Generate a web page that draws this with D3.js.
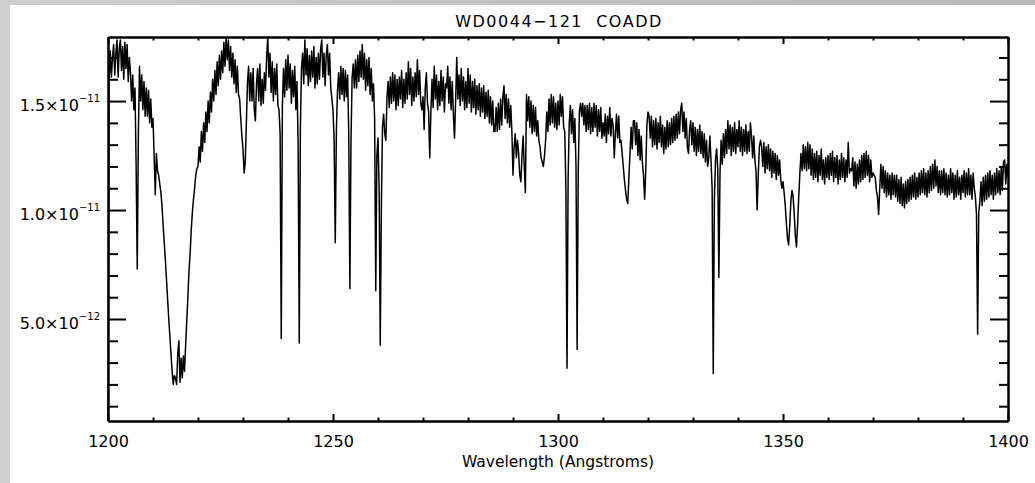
<!DOCTYPE html>
<html><head><meta charset="utf-8">
<script src="https://cdn.jsdelivr.net/npm/d3@7"></script>
<style>
html,body{margin:0;padding:0;background:#fff;}
svg{display:block;}
text{font-family:"DejaVu Sans",sans-serif;fill:#000;}
</style></head><body>
<svg id="chart" width="1035" height="483"></svg>
<script>
// ---------- data ----------
const title = "WD0044\u2212121  COADD";
const xTitle = "Wavelength (Angstroms)";
const xDomain = [1200, 1400];
const xMajorTicks = [1200, 1250, 1300, 1350, 1400];
const xMinorTicks = [1210,1220,1230,1240,1260,1270,1280,1290,1310,1320,1330,1340,1360,1370,1380,1390];
const yDomain = [0.32, 17.94];            // flux, units of 1e-12
const yMajorTicks = [5, 10, 15];
const yMajorMantissa = ["5.0", "1.0", "1.5"];
const yMajorExponent = ["\u221212", "\u221211", "\u221211"];
const yMinorTicks = [1,2,3,4,6,7,8,9,11,12,13,14,16,17];
const waveStart = 1200, waveStep = 0.25;  // Angstrom sampling of the flux list
// flux (1e-12 erg/s/cm2/A), one value every 0.25 A from 1200 to 1400
const flux = [
0.32,16.0,17.3,16.1,17.0,17.6,16.2,17.2,17.8,16.1,17.4,17.8,16.4,17.5,16.0,17.7,16.5,17.6,15.9,17.0,
16.3,15.0,16.2,14.6,15.6,12.0,7.3,13.5,16.6,15.0,16.2,14.6,15.9,14.3,15.6,14.3,15.5,14.0,15.1,13.8,
14.2,12.5,10.7,12.6,11.8,11.6,11.2,10.8,10.2,9.3,8.5,7.7,6.8,5.9,5.0,4.2,3.4,2.6,2.0,2.4,
2.3,2.0,3.4,4.0,2.1,3.2,2.3,3.3,2.6,3.8,4.9,6.0,7.2,8.0,9.1,9.9,10.5,11.0,11.6,11.9,
12.0,12.9,12.2,13.6,12.7,14.0,13.1,14.5,13.6,15.0,14.0,15.4,14.5,16.0,15.0,16.4,15.3,16.8,15.7,17.1,
16.0,17.3,16.3,17.7,16.6,17.9,16.9,17.8,16.4,17.5,16.1,17.2,15.8,16.9,15.4,16.6,15.3,15.1,14.2,13.4,
12.8,11.7,12.2,14.0,15.9,16.6,15.0,16.3,15.0,16.5,14.6,14.1,15.8,16.5,15.0,16.7,14.8,16.0,14.9,16.3,
15.5,17.0,17.94,16.1,17.2,15.4,16.8,15.0,16.5,15.3,16.7,14.8,14.6,13.5,4.1,14.8,16.5,15.2,16.9,15.5,
17.1,15.6,16.7,14.9,16.4,15.2,16.6,14.6,15.9,13.0,3.9,13.8,16.5,17.2,15.8,17.8,16.2,17.4,15.7,17.1,
15.9,17.3,16.1,17.5,15.6,17.0,15.8,17.2,16.0,17.4,17.8,16.1,17.2,15.7,17.1,17.6,16.2,17.2,15.6,15.1,
14.6,13.2,8.5,13.6,15.5,16.3,15.1,16.6,15.3,16.5,15.0,16.4,15.2,16.2,13.5,6.4,13.2,16.1,16.7,15.6,
16.9,15.6,17.1,15.9,17.3,16.1,17.6,16.0,17.2,15.5,16.9,15.7,17.0,15.3,16.5,15.0,15.8,14.2,6.3,12.5,
13.3,11.0,3.8,10.2,13.8,14.4,13.5,13.2,15.2,15.9,14.7,16.1,14.9,16.3,15.0,16.2,14.6,16.0,14.8,16.1,
15.1,16.4,14.7,16.0,14.9,16.3,15.1,16.8,15.3,16.5,14.8,16.1,15.0,16.3,15.2,16.9,15.3,16.4,14.9,14.6,
15.2,13.7,15.6,16.3,14.9,14.5,12.4,14.5,16.0,14.7,16.6,15.1,16.2,14.6,15.9,14.8,16.4,15.0,16.1,14.5,
15.8,15.6,16.6,14.9,16.1,14.6,15.9,14.4,13.3,15.0,17.0,15.1,16.2,14.8,16.5,15.0,16.1,14.6,15.9,14.7,
16.5,14.9,16.2,14.5,15.9,14.7,16.0,14.4,15.7,14.6,15.8,14.3,15.6,14.5,15.7,14.2,15.4,14.3,15.5,14.0,
15.2,13.9,15.0,13.6,13.6,14.7,13.6,14.9,13.7,15.1,13.9,15.2,15.7,14.2,15.3,14.0,15.1,13.8,14.8,13.6,
11.6,12.9,13.5,12.4,13.2,12.6,11.6,11.3,12.5,13.4,12.0,10.8,15.3,14.1,15.2,13.8,15.0,13.5,14.8,13.6,
14.7,13.4,14.1,13.2,12.9,12.4,12.2,12.0,12.5,13.2,14.5,13.6,15.1,13.9,15.3,14.0,15.2,13.8,14.9,13.7,
15.0,13.9,15.3,14.3,15.2,13.8,13.6,11.0,2.74,11.5,14.0,14.8,13.5,14.6,13.1,14.2,12.0,3.6,11.8,14.5,
14.9,14.3,14.9,13.9,14.8,13.6,14.8,13.7,14.9,13.5,14.7,13.6,14.9,13.8,14.8,13.4,14.6,13.6,14.7,13.3,
14.0,13.4,14.4,13.1,14.3,13.5,14.7,13.4,14.2,13.9,12.4,13.5,14.4,13.3,14.3,13.1,13.2,12.6,12.0,11.4,
10.9,10.5,10.3,11.5,12.6,13.8,12.8,14.1,14.1,13.0,14.0,12.5,13.7,12.3,13.4,12.2,11.6,10.5,11.8,13.9,
14.5,14.3,13.3,14.3,12.9,14.1,13.0,14.2,12.8,14.0,13.1,14.3,12.9,13.9,12.6,13.8,12.8,14.1,12.9,14.0,
13.0,14.2,13.1,14.3,13.2,14.4,13.3,14.5,13.5,14.6,14.9,13.6,14.5,13.3,14.2,12.9,12.6,13.7,14.1,13.0,
14.0,12.7,13.8,12.5,13.7,12.7,13.9,12.6,13.6,12.4,13.5,12.2,13.2,12.0,12.4,13.4,12.3,11.0,2.5,10.5,
12.3,12.8,11.9,6.9,11.7,13.2,12.1,13.5,12.4,13.7,12.6,14.1,12.8,13.9,12.5,13.8,12.7,14.0,12.6,13.7,
12.9,14.1,12.7,13.8,12.5,13.7,12.7,13.9,12.6,13.6,12.7,14.0,13.4,12.4,13.4,12.3,11.8,10.0,11.6,12.9,
13.2,12.9,12.0,13.1,11.7,12.9,11.9,13.0,11.8,12.8,11.5,12.7,11.7,12.6,11.4,12.5,11.6,12.3,11.4,11.0,
11.3,10.8,10.2,9.4,8.7,8.4,9.3,10.4,10.9,10.6,9.8,8.8,8.3,9.4,10.6,11.7,12.6,11.8,13.0,11.9,
12.9,11.8,13.1,11.9,13.0,11.6,12.8,11.4,12.6,11.5,12.7,11.3,12.5,11.6,12.8,11.4,12.3,11.2,12.4,11.5,
12.5,11.4,12.6,11.6,12.7,11.3,12.4,11.5,12.5,11.2,12.3,11.4,12.6,11.5,12.4,11.3,12.3,11.5,13.1,11.7,
11.9,11.8,12.4,11.1,12.2,11.0,12.1,11.2,12.3,11.3,12.5,11.4,12.6,11.5,12.7,11.6,12.5,11.3,12.3,11.5,
11.7,11.6,11.5,10.9,10.6,9.8,11.0,12.1,11.0,12.0,10.8,11.8,10.6,11.7,10.7,11.6,10.5,11.7,10.7,11.6,
10.6,11.6,10.4,11.4,10.3,11.5,10.2,11.2,10.1,11.3,10.3,11.4,10.4,11.5,10.5,11.6,10.6,11.7,10.5,11.5,
10.6,11.7,10.7,11.8,10.8,11.9,10.7,11.7,10.6,11.8,10.8,12.0,10.9,12.1,11.0,12.3,11.1,12.0,10.8,11.8,
10.7,11.8,10.8,11.9,10.7,11.7,10.6,11.6,10.7,11.9,10.8,11.7,10.5,11.6,10.6,11.8,10.7,11.5,10.5,11.6,
10.8,11.8,10.6,11.7,10.7,11.9,10.7,11.6,10.5,11.7,11.0,10.6,9.8,4.3,9.9,10.4,11.3,10.2,11.5,10.4,
11.6,10.5,11.7,10.6,11.8,10.7,11.6,10.5,11.7,10.7,11.9,10.8,11.8,10.7,12.0,10.9,12.2,12.3,11.2,12.1,11.5
];
const wavelength = flux.map((_, i) => waveStart + i * waveStep);

// ---------- layout ----------
const W = 1035, H = 483;
const L = 108, R = 1008, T = 37, B = 421;
const svg = d3.select("#chart");

// background (grey frame around white panel)
const defs = svg.append("defs");
const g1 = defs.append("linearGradient").attr("id","bg").attr("x1","0").attr("y1","0").attr("x2","1").attr("y2","0");
g1.append("stop").attr("offset","0%").attr("stop-color","#cfcfcf");
g1.append("stop").attr("offset","50%").attr("stop-color","#c2c2c2");
g1.append("stop").attr("offset","100%").attr("stop-color","#b9b9b9");
svg.append("rect").attr("width",W).attr("height",H).attr("fill","url(#bg)");
svg.append("rect").attr("x",10).attr("y",5).attr("width",W-10).attr("height",H-5).attr("fill","#fff");

const x = d3.scaleLinear().domain(xDomain).range([L, R]);
const y = d3.scaleLinear().domain(yDomain).range([B, T]);

// data line
const line = d3.line().x((d,i) => x(wavelength[i])).y(d => y(d));
svg.append("path").datum(flux)
  .attr("d", line).attr("fill","none").attr("stroke","#000")
  .attr("stroke-width",1.5).attr("stroke-linejoin","round");

// axes helper
function styleAxis(g){
  g.selectAll("path.domain").attr("stroke","#000").attr("stroke-width",2);
  g.selectAll(".tick line").attr("stroke","#000").attr("stroke-width",2);
  g.selectAll("text").remove();
}
// bottom
const gb = svg.append("g").attr("transform",`translate(0,${B})`)
  .call(d3.axisBottom(x).tickValues(xMajorTicks).tickSizeInner(-7).tickSizeOuter(0).tickFormat(d3.format("d")));
gb.selectAll(".tick text").attr("y",26).attr("dy",0).style("font-size","16px").style("font-family","DejaVu Sans");
gb.selectAll("path.domain").attr("stroke","#000").attr("stroke-width",2);
gb.selectAll(".tick line").attr("stroke","#000").attr("stroke-width",2);
svg.append("g").attr("transform",`translate(0,${B})`)
  .call(d3.axisBottom(x).tickValues(xMinorTicks).tickSizeInner(-3.5).tickSizeOuter(0).tickFormat(""))
  .call(styleAxis);
// top
svg.append("g").attr("transform",`translate(0,${T})`)
  .call(d3.axisTop(x).tickValues(xMajorTicks).tickSizeInner(-7).tickSizeOuter(0).tickFormat(""))
  .call(styleAxis);
svg.append("g").attr("transform",`translate(0,${T})`)
  .call(d3.axisTop(x).tickValues(xMinorTicks).tickSizeInner(-3.5).tickSizeOuter(0).tickFormat(""))
  .call(styleAxis);
// left
const gl = svg.append("g").attr("transform",`translate(${L},0)`)
  .call(d3.axisLeft(y).tickValues(yMajorTicks).tickSizeInner(-18).tickSizeOuter(0).tickFormat(""));
gl.selectAll("path.domain").attr("stroke","#000").attr("stroke-width",2);
gl.selectAll(".tick line").attr("stroke","#000").attr("stroke-width",2);
gl.selectAll(".tick text").remove();
gl.selectAll(".tick").each(function(d){
  const i = yMajorTicks.indexOf(d);
  const t = d3.select(this).append("text")
    .attr("x",-8).attr("y",9).attr("text-anchor","end").style("font-size","16px");
  t.append("tspan").text(yMajorMantissa[i] + "\u00d710");
  t.append("tspan").attr("dy",-8.5).style("font-size","10px").text(yMajorExponent[i]);
});
svg.append("g").attr("transform",`translate(${L},0)`)
  .call(d3.axisLeft(y).tickValues(yMinorTicks).tickSizeInner(-10).tickSizeOuter(0).tickFormat(""))
  .call(styleAxis);
// right
svg.append("g").attr("transform",`translate(${R},0)`)
  .call(d3.axisRight(y).tickValues(yMajorTicks).tickSizeInner(-18).tickSizeOuter(0).tickFormat(""))
  .call(styleAxis);
svg.append("g").attr("transform",`translate(${R},0)`)
  .call(d3.axisRight(y).tickValues(yMinorTicks).tickSizeInner(-9).tickSizeOuter(0).tickFormat(""))
  .call(styleAxis);

// titles
svg.append("text").attr("x",(L+R)/2 + 1).attr("y",27).attr("text-anchor","middle")
  .attr("xml:space","preserve").style("white-space","pre")
  .style("font-size","16px").style("letter-spacing","1.5px").text(title);
svg.append("text").attr("x",(L+R)/2).attr("y",467).attr("text-anchor","middle")
  .style("font-size","15.5px").text(xTitle);
</script>
</body></html>
